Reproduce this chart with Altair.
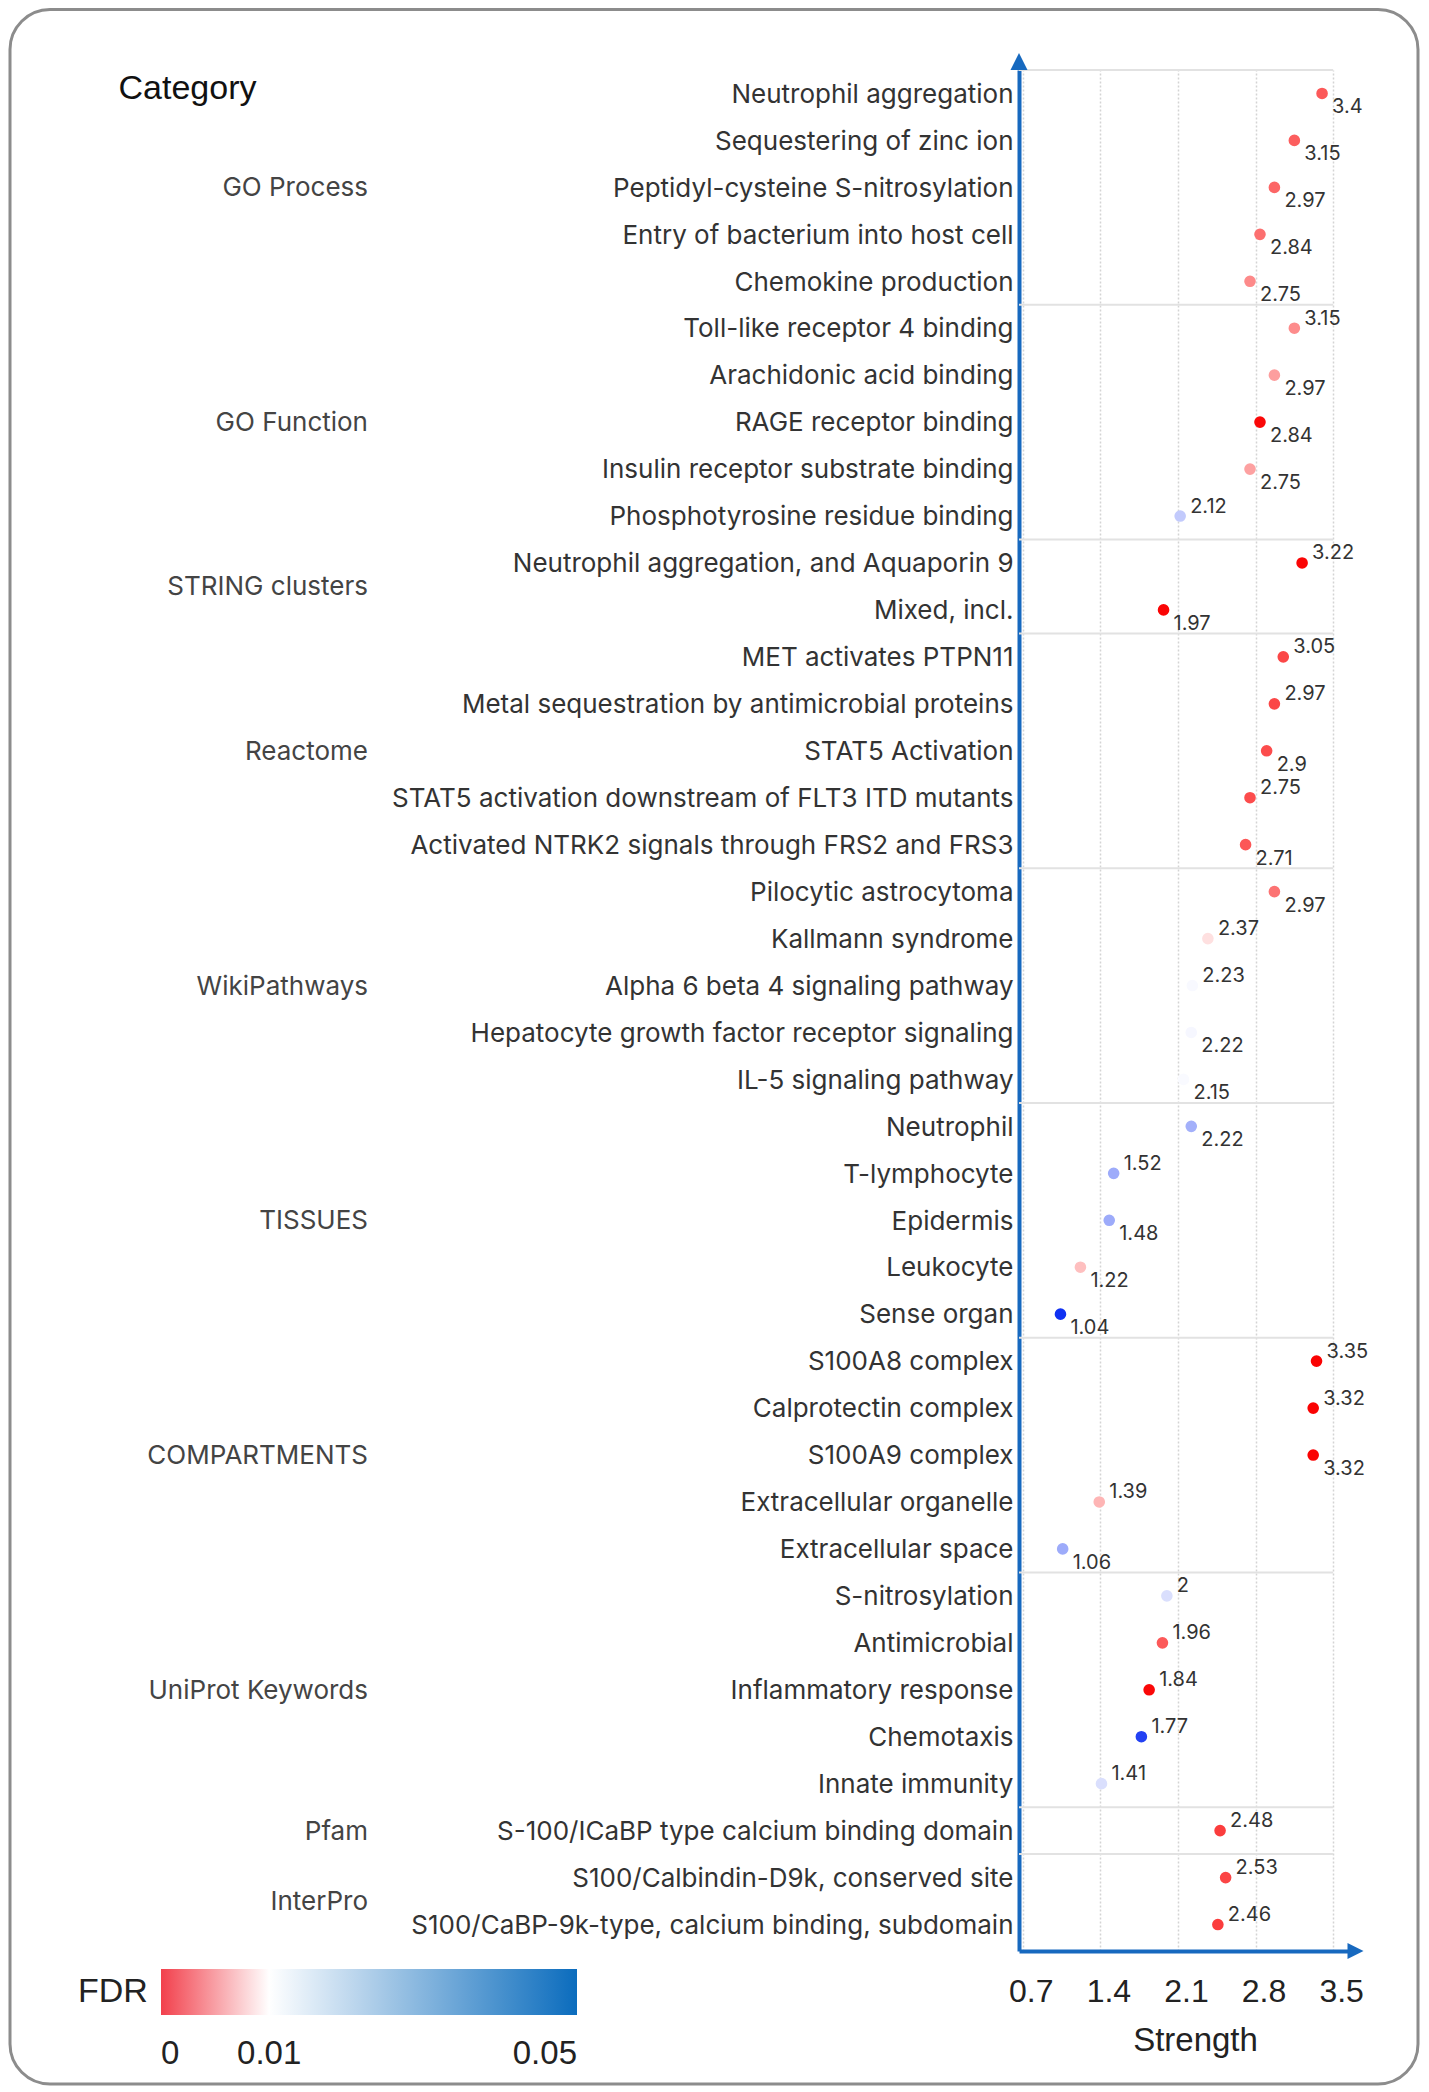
import json
import altair as alt
import pandas as pd

# ---------------- data ----------------
group_names = ["GO Process", "GO Function", "STRING clusters", "Reactome", "WikiPathways",
               "TISSUES", "COMPARTMENTS", "UniProt Keywords", "Pfam", "InterPro"]
group_sizes = [5, 5, 2, 5, 5, 5, 5, 5, 1, 2]

terms = [
    "Neutrophil aggregation", "Sequestering of zinc ion", "Peptidyl-cysteine S-nitrosylation",
    "Entry of bacterium into host cell", "Chemokine production",
    "Toll-like receptor 4 binding", "Arachidonic acid binding", "RAGE receptor binding",
    "Insulin receptor substrate binding", "Phosphotyrosine residue binding",
    "Neutrophil aggregation, and Aquaporin 9", "Mixed, incl.",
    "MET activates PTPN11", "Metal sequestration by antimicrobial proteins", "STAT5 Activation",
    "STAT5 activation downstream of FLT3 ITD mutants", "Activated NTRK2 signals through FRS2 and FRS3",
    "Pilocytic astrocytoma", "Kallmann syndrome", "Alpha 6 beta 4 signaling pathway",
    "Hepatocyte growth factor receptor signaling", "IL-5 signaling pathway",
    "Neutrophil", "T-lymphocyte", "Epidermis", "Leukocyte", "Sense organ",
    "S100A8 complex", "Calprotectin complex", "S100A9 complex", "Extracellular organelle",
    "Extracellular space",
    "S-nitrosylation", "Antimicrobial", "Inflammatory response", "Chemotaxis", "Innate immunity",
    "S-100/ICaBP type calcium binding domain",
    "S100/Calbindin-D9k, conserved site", "S100/CaBP-9k-type, calcium binding, subdomain",
]

strength = [
    3.4, 3.15, 2.97, 2.84, 2.75,
    3.15, 2.97, 2.84, 2.75, 2.12,
    3.22, 1.97,
    3.05, 2.97, 2.9, 2.75, 2.71,
    2.97, 2.37, 2.23, 2.22, 2.15,
    2.22, 1.52, 1.48, 1.22, 1.04,
    3.35, 3.32, 3.32, 1.39, 1.06,
    2.0, 1.96, 1.84, 1.77, 1.41,
    2.48,
    2.53, 2.46,
]

fdr = [
    0.0035, 0.0037, 0.0040, 0.0044, 0.0054,
    0.0055, 0.0062, 0.0003, 0.0063, 0.0200,
    0.0002, 0.0002,
    0.0028, 0.0028, 0.0030, 0.0030, 0.0034,
    0.0045, 0.0088, 0.0112, 0.0115, 0.0110,
    0.0250, 0.0260, 0.0260, 0.0075, 0.0490,
    0.0001, 0.0001, 0.0001, 0.0071, 0.0260,
    0.0160, 0.0035, 0.0003, 0.0460, 0.0160,
    0.0024,
    0.0027, 0.0024,
]

label_above = [
    False, False, False, False, False,
    True, False, False, False, True,
    True, False,
    True, True, False, True, False,
    False, True, True, False, False,
    False, True, False, False, False,
    True, True, False, True, False,
    True, True, True, True, True,
    True,
    True, True,
]

x_ticks = [0.7, 1.4, 2.1, 2.8, 3.5]
legend_ticks = [0, 0.01, 0.05]

# ---------------- tables ----------------
category_per_row = [g for g, n in zip(group_names, group_sizes) for _ in range(n)]
df = pd.DataFrame({
    "term": terms,
    "category": category_per_row,
    "strength": strength,
    "fdr": fdr,
    "above": label_above,
    "row": list(range(len(terms))),
})
groups = df.groupby("category", sort=False)["row"].mean().reset_index()
cum = 0
bounds = [-0.5]
for n in group_sizes[:-1]:
    cum += n
    bounds.append(cum - 0.5)
sep_df = pd.DataFrame({"row": bounds})

# ---------------- layout / style ----------------
BLUE = "#1769bf"
W, H = 329, 1881
X_MIN, X_MAX = 0.666, 3.634
Y_TOP, Y_BOT = -0.5, 39.564
SANS = "Liberation Sans"
INTER = "Inter"

x_scale = alt.Scale(domain=[X_MIN, X_MAX], nice=False, zero=False)
y_scale = alt.Scale(domain=[Y_TOP, Y_BOT], reverse=True, nice=False, zero=False)

x_axis = alt.Axis(
    values=x_ticks, format=".1f", title="Strength",
    labelFont=SANS, labelFontSize=32, labelColor="#222", labelPadding=25, labelOffset=8,
    labelFlush=False, labelOverlap=False,
    ticks=False, tickSize=0,
    grid=True, gridColor="#d4d4d4", gridDash=[2, 2], gridWidth=1.5,
    domainColor=BLUE, domainWidth=4,
    titleFont=SANS, titleFontSize=33, titleFontWeight="normal", titleColor="#222",
    titleX=176, titleY=99, titleBaseline="alphabetic", titleAlign="center",
)
y_axis = alt.Axis(
    values=list(range(len(terms))),
    labelExpr=json.dumps(terms) + "[datum.value]",
    labelFont=INTER, labelFontSize=26, labelColor="#333", labelPadding=6, labelOffset=0.75,
    labelLimit=1000, labelOverlap=False, labelFlush=False,
    ticks=False, tickSize=0, grid=False,
    domainColor=BLUE, domainWidth=4,
    title="Category", titleAngle=0, titleAlign="left", titleBaseline="alphabetic",
    titleX=-901, titleY=28, titleFont=SANS, titleFontSize=34,
    titleFontWeight="normal", titleColor="#111",
)

X = alt.X("strength:Q", scale=x_scale, axis=x_axis)
Y = alt.Y("row:Q", scale=y_scale, axis=y_axis)

base = alt.Chart(df)

# point colours (two-element domain with a mid point, so it stays separate from the legend scale)
points = base.mark_circle(size=135, opacity=1).encode(
    x=X, y=Y,
    fill=alt.Fill("fdr:Q", legend=None,
                  scale=alt.Scale(domain=[0, 0.05], domainMid=0.01,
                                  range=["#fa0000", "#ffffff", "#0a2cf2"],
                                  interpolate="rgb")),
)

# invisible layer that carries the FDR colour legend
legend_layer = base.mark_circle(opacity=0).encode(
    x=X, y=Y,
    color=alt.Color(
        "fdr:Q",
        scale=alt.Scale(type="pow", exponent=0.837, domain=[0, 0.01, 0.05],
                        range=["#f2404c", "#ffffff", "#0b6cbd"],
                        interpolate="rgb"),
        legend=alt.Legend(
            title="FDR", orient="none", legendX=-941, legendY=1899,
            direction="horizontal", titleOrient="left",
            gradientLength=416, gradientThickness=46, gradientStrokeWidth=0,
            values=legend_ticks, format="~g",
            labelFont=SANS, labelFontSize=33, labelColor="#222", labelOffset=23,
            titleFont=SANS, titleFontSize=34, titleColor="#222",
            titleFontWeight="normal", titlePadding=13, padding=0,
        ),
    ),
)

lab_above = base.transform_filter("datum.above").mark_text(
    align="left", baseline="middle", dx=10, dy=-9.5,
    font=INTER, fontSize=20, color="#333",
).encode(x=X, y=Y, text=alt.Text("strength:Q", format=".3~g"))

lab_below = base.transform_filter("!datum.above").mark_text(
    align="left", baseline="middle", dx=10, dy=14,
    font=INTER, fontSize=20, color="#333",
).encode(x=X, y=Y, text=alt.Text("strength:Q", format=".3~g"))

seps = alt.Chart(sep_df).mark_rule(color="#e2e2e2", strokeWidth=2).encode(
    y=Y, x=alt.datum(X_MIN), x2=alt.datum(3.5),
)

cat_labels = alt.Chart(groups).mark_text(
    align="right", baseline="middle", dy=1, font=INTER, fontSize=26, color="#444",
).encode(x=alt.value(-651), y=Y, text="category:N")

one = pd.DataFrame({"k": [0]})
arrow_up = alt.Chart(one).mark_point(
    shape="M0,-1L1,1L-1,1Z", filled=True, size=289, color=BLUE, opacity=1, yOffset=-8.5,
).encode(x=alt.datum(X_MIN), y=alt.datum(Y_TOP))
arrow_right = alt.Chart(one).mark_point(
    shape="M-1,-1L1,0L-1,1Z", filled=True, size=256, color=BLUE, opacity=1, xOffset=7.5,
).encode(x=alt.datum(X_MAX), y=alt.datum(Y_BOT))

frame = alt.Chart(one).mark_rect(
    fillOpacity=0, stroke="#8c8c8c", strokeWidth=3, cornerRadius=40,
).encode(
    x=alt.value(-1009), x2=alt.value(W + 70),
    y=alt.value(-60.5), y2=alt.value(H + 133),
)

chart = alt.layer(
    frame, seps, points, legend_layer, lab_above, lab_below, cat_labels, arrow_up, arrow_right,
).properties(width=W, height=H, padding=0, background="white").configure_view(strokeWidth=0)

chart.save("out.html", embed_options={"renderer": "svg", "actions": False})
